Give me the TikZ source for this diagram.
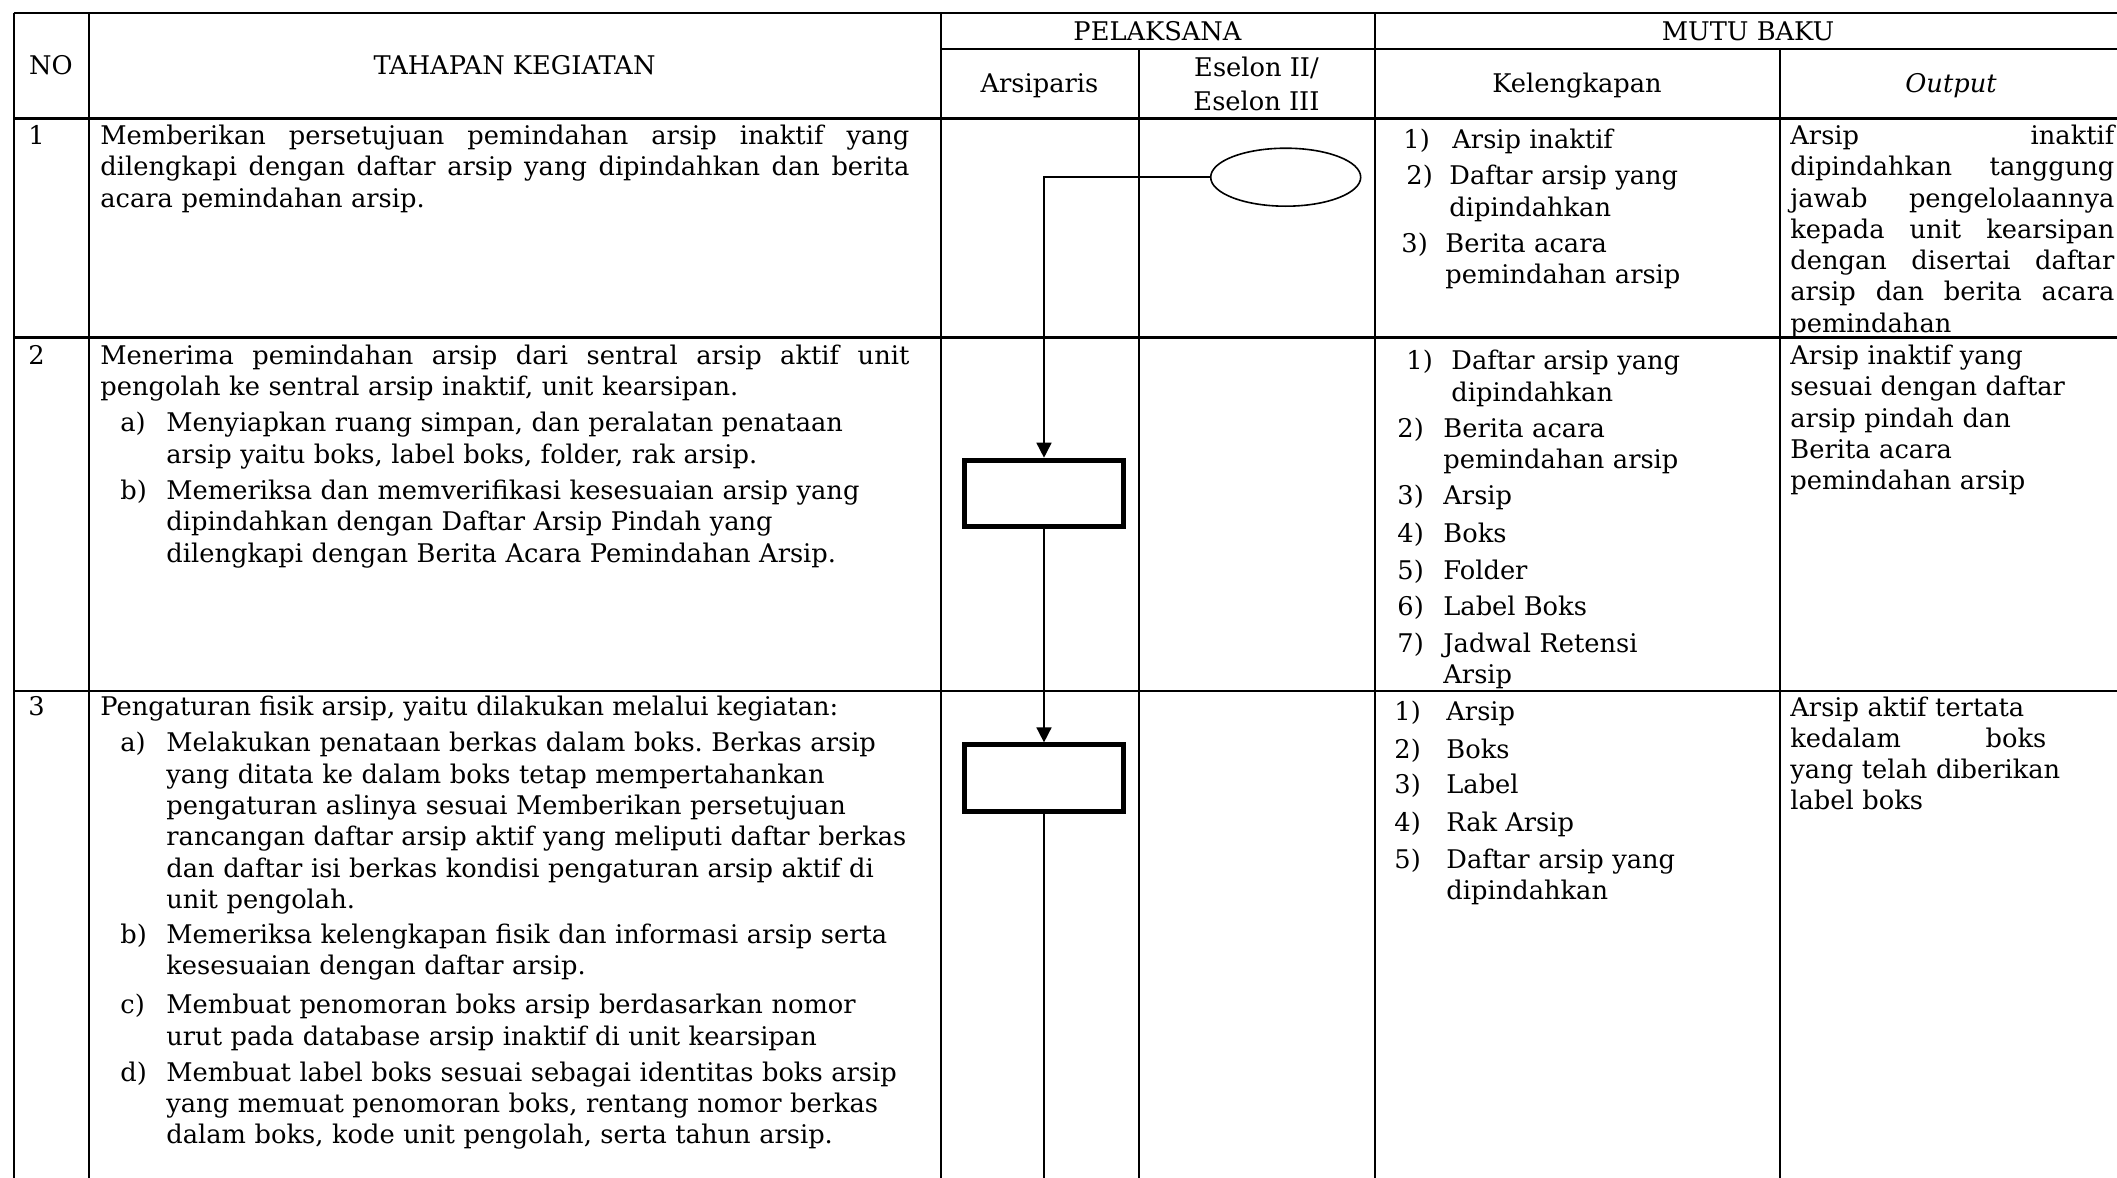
\documentclass[tikz,border=0pt]{standalone}
\usepackage{fontspec}
\setmainfont{DejaVu Serif}
\usetikzlibrary{arrows.meta,shapes.geometric}
\newcommand\tblfont{\fontsize{12.85}{15.65}\selectfont\frenchspacing}
% a line spread to the full width, gaps between words growing evenly
\newcommand\jline[2]{\leavevmode\hbox to #1{\spaceskip=\fontdimen2\font plus 1fil\relax #2}}
\begin{document}
\begin{tikzpicture}[x=0.5pt,y=-0.5pt,
  tx/.style={inner sep=0pt, anchor=base west, font=\tblfont},
  blk/.style={tx, text width=#1, align=left},
  blk/.default=380pt,
  hdr/.style={inner sep=0pt, anchor=base, font=\tblfont},
  hline/.style={line width=1.2pt},
  vline/.style={line width=1pt},
  stepbox/.style={draw, line width=2.5pt, minimum width=79.5pt, minimum height=33.3pt, inner sep=0pt},
  startnode/.style={draw, ellipse, line width=0.8pt, minimum width=75pt, minimum height=29pt, inner sep=0pt},
  flow/.style={line width=0.8pt},
  flowarrow/.style={flow, -{Triangle[length=7.5pt,width=7.5pt]}},
]
\useasboundingbox (0,0) rectangle (2117,1178);

% table rules
\draw[vline] (13.5,1178) -- (13.5,13);
\draw[hline] (13.5,13) -- (2117,13);
\draw[hline] (940.5,49) -- (2117,49);
\draw[hline] (13.5,118.5) -- (2117,118.5);
\draw[hline] (13.5,337.5) -- (2117,337.5);
\draw[hline] (13.5,691) -- (2117,691);
\draw[vline] (88.5,13) -- (88.5,1178);
\draw[vline] (940.5,13) -- (940.5,1178);
\draw[vline] (1374.5,13) -- (1374.5,1178);
\draw[vline] (1138.5,49) -- (1138.5,1178);
\draw[vline] (1779.5,49) -- (1779.5,1178);

% header
\node[hdr] (hno) at (51,74) {NO};
\node[hdr] (htahap) at (514.5,74) {TAHAPAN KEGIATAN};
\node[hdr] (hpel) at (1157.5,40) {PELAKSANA};
\node[hdr] (hmutu) at (1748,40) {MUTU BAKU};
\node[hdr] (harsip) at (1039.5,92) {Arsiparis};
\node[hdr] (hesa) at (1256.5,76.5) {Eselon II/};
\node[hdr] (hesb) at (1256.5,110) {Eselon III};
\node[hdr] (hkel) at (1577,92) {Kelengkapan};
\node[hdr] (hout) at (1951,92) {\itshape Output};

% row numbers
\node[tx] (n1) at (28,144.4) {1};
\node[tx] (n2) at (28,364.4) {2};
\node[tx] (n3) at (28,715.4) {3};

% activity steps
\node[blk=404.5pt] (s1) at (100,144.4) {\jline{404.5pt}{Memberikan persetujuan pemindahan arsip inaktif yang}\\
\jline{404.5pt}{dilengkapi dengan daftar arsip yang dipindahkan dan berita}\\
acara pemindahan arsip.};

\node[blk=404.5pt] (s2) at (100,364.4) {\jline{404.5pt}{Menerima pemindahan arsip dari sentral arsip aktif unit}\\
pengolah ke sentral arsip inaktif, unit kearsipan.};
\node[tx] (s2al) at (120,431.9) {a)};
\node[blk] (s2a) at (166,431.9) {Menyiapkan ruang simpan, dan peralatan penataan\\
arsip yaitu boks, label boks, folder, rak arsip.};
\node[tx] (s2bl) at (120,499.4) {b)};
\node[blk] (s2b) at (166,499.4) {Memeriksa dan memverifikasi kesesuaian arsip yang\\
dipindahkan dengan Daftar Arsip Pindah yang\\
dilengkapi dengan Berita Acara Pemindahan Arsip.};

\node[tx] (s3) at (100,715.4) {Pengaturan fisik arsip, yaitu dilakukan melalui kegiatan:};
\node[tx] (s3al) at (120,751.9) {a)};
\node[blk] (s3a) at (166,751.9) {Melakukan penataan berkas dalam boks. Berkas arsip\\
yang ditata ke dalam boks tetap mempertahankan\\
pengaturan aslinya sesuai Memberikan persetujuan\\
rancangan daftar arsip aktif yang meliputi daftar berkas\\
dan daftar isi berkas kondisi pengaturan arsip aktif di\\
unit pengolah.};
\node[tx] (s3bl) at (120,943.6) {b)};
\node[blk] (s3b) at (166,943.6) {Memeriksa kelengkapan fisik dan informasi arsip serta\\
kesesuaian dengan daftar arsip.};
\node[tx] (s3cl) at (120,1013.8) {c)};
\node[blk] (s3c) at (166,1013.8) {Membuat penomoran boks arsip berdasarkan nomor\\
urut pada database arsip inaktif di unit kearsipan};
\node[tx] (s3dl) at (120,1081.3) {d)};
\node[blk] (s3d) at (166,1081.3) {Membuat label boks sesuai sebagai identitas boks arsip\\
yang memuat penomoran boks, rentang nomor berkas\\
dalam boks, kode unit pengolah, serta tahun arsip.};

% flow symbols
\node[startnode] (start) at (1285.7,177.2) {};
\node[stepbox] (b1) at (1044,493.5) {};
\node[stepbox] (b2) at (1044,778.2) {};
\coordinate (flowend) at (1044,1178);
\draw[flowarrow] (start.west) -| (b1.north);
\draw[flowarrow] (b1.south) -- (b2.north);
\draw[flow] (b2.south) -- (flowend);

% kelengkapan, row 1
\node[tx] (k11l) at (1403,148.4) {1)};
\node[tx] (k11) at (1452,148.4) {Arsip inaktif};
\node[tx] (k12l) at (1406,184.9) {2)};
\node[blk=150pt] (k12) at (1449,184.9) {Daftar arsip yang\\dipindahkan};
\node[tx] (k13l) at (1401,252.4) {3)};
\node[blk=150pt] (k13) at (1445,252.4) {Berita acara\\pemindahan arsip};

% kelengkapan, row 2
\node[tx] (k21l) at (1406,369.8) {1)};
\node[blk=150pt] (k21) at (1451,369.8) {Daftar arsip yang\\dipindahkan};
\node[tx] (k22l) at (1397,437.3) {2)};
\node[blk=150pt] (k22) at (1443,437.3) {Berita acara\\pemindahan arsip};
\node[tx] (k23l) at (1397,504.8) {3)};
\node[tx] (k23) at (1443,504.8) {Arsip};
\node[tx] (k24l) at (1397,542.6) {4)};
\node[tx] (k24) at (1443,542.6) {Boks};
\node[tx] (k25l) at (1397,579) {5)};
\node[tx] (k25) at (1443,579) {Folder};
\node[tx] (k26l) at (1397,615.5) {6)};
\node[tx] (k26) at (1443,615.5) {Label Boks};
\node[tx] (k27l) at (1397,652) {7)};
\node[blk=150pt] (k27) at (1443,652) {Jadwal Retensi\\Arsip};

% kelengkapan, row 3
\node[tx] (k31l) at (1394,720.8) {1)};
\node[tx] (k31) at (1446,720.8) {Arsip};
\node[tx] (k32l) at (1394,758.6) {2)};
\node[tx] (k32) at (1446,758.6) {Boks};
\node[tx] (k33l) at (1394,793.7) {3)};
\node[tx] (k33) at (1446,793.7) {Label};
\node[tx] (k34l) at (1394,831.5) {4)};
\node[tx] (k34) at (1446,831.5) {Rak Arsip};
\node[tx] (k35l) at (1394,868) {5)};
\node[blk=150pt] (k35) at (1446,868) {Daftar arsip yang\\dipindahkan};

% output
\node[blk=162pt] (o1) at (1790,144.4) {\jline{162pt}{Arsip inaktif}\\
\jline{162pt}{dipindahkan tanggung}\\
\jline{162pt}{jawab pengelolaannya}\\
\jline{162pt}{kepada unit kearsipan}\\
\jline{162pt}{dengan disertai daftar}\\
\jline{162pt}{arsip dan berita acara}\\
pemindahan};
\node[blk=162pt] (o2) at (1790,364.4) {Arsip inaktif yang\\
sesuai dengan daftar\\
arsip pindah dan\\
Berita acara\\
pemindahan arsip};
\node[blk=162pt] (o3) at (1790,716) {Arsip aktif tertata\\
\jline{128pt}{kedalam boks}\\
yang telah diberikan\\
label boks};
\end{tikzpicture}
\end{document}
